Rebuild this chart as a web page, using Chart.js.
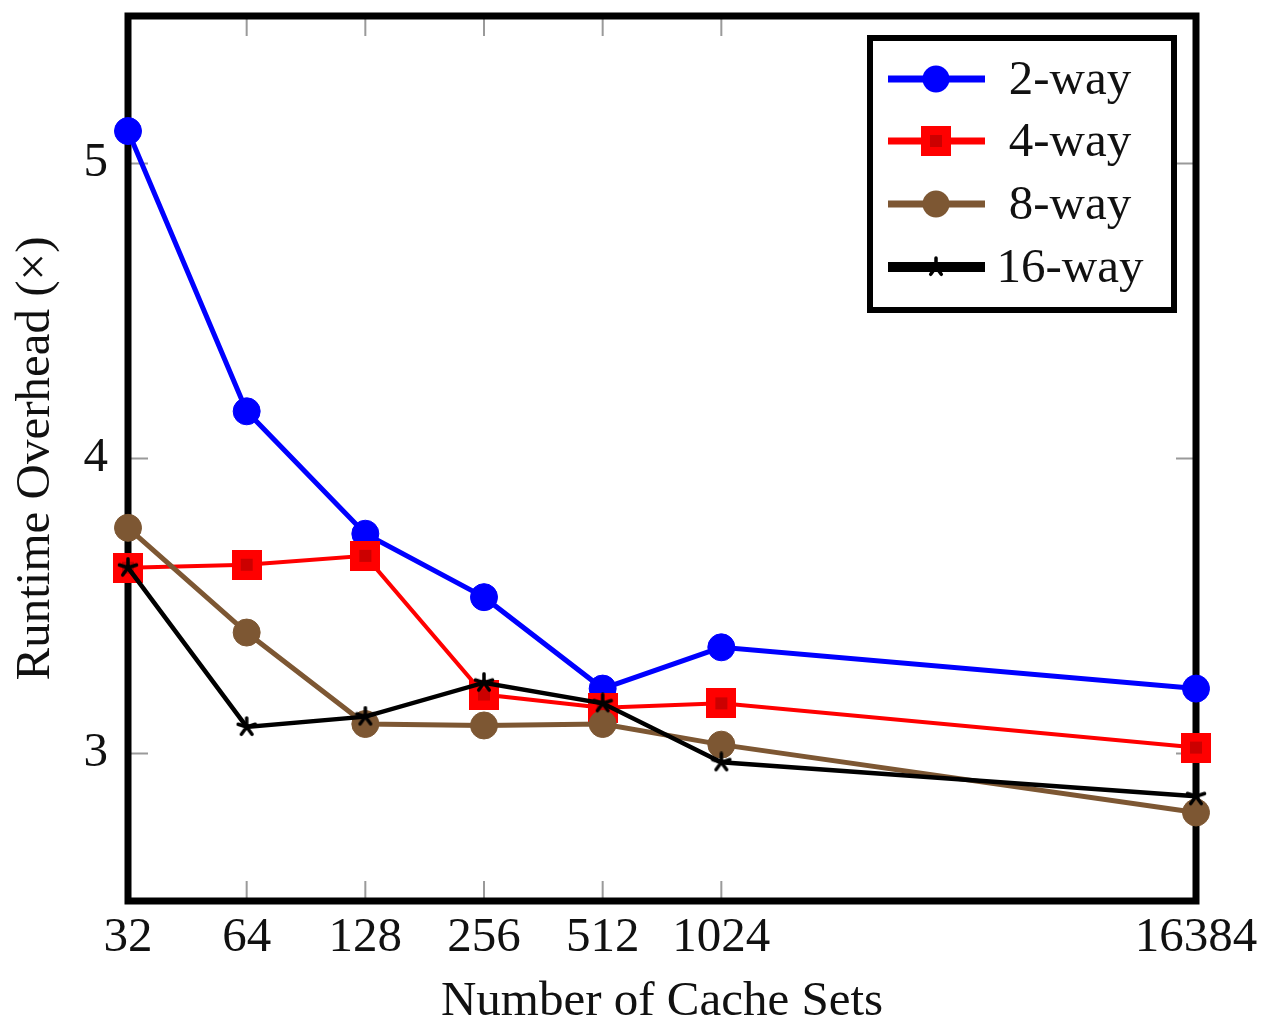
<!DOCTYPE html>
<html>
<head>
<meta charset="utf-8">
<script src="https://cdn.jsdelivr.net/npm/chart.js@4.4.1/dist/chart.umd.min.js"></script>
<style>
  html, body { margin: 0; padding: 0; background: #fff; }
  #chart { display: block; }
</style>
</head>
<body>
<canvas id="chart" width="1266" height="1032"></canvas>
<script>
// Data
// ////////////////////////////////////////////////////////////////

const cacheSets = [32, 64, 128, 256, 512, 1024, 16384];
const way2 = [5.11, 4.16, 3.745, 3.53, 3.22, 3.36, 3.22];
const way4 = [3.63, 3.64, 3.67, 3.20, 3.155, 3.17, 3.02];
const way8 = [3.765, 3.41, 3.10, 3.095, 3.10, 3.03, 2.80];
const way16 = [3.63, 3.09, 3.125, 3.24, 3.17, 2.97, 2.855];
const seriesNames = ['2-way', '4-way', '8-way', '16-way'];
const yTicks = [3, 4, 5];

const FONT = '"Liberation Serif", "Times New Roman", serif';
const BROWN = '#7d5733';

/**
 * Builds a small canvas used as a point style.
 * @param {int} size Canvas side in pixels.
 * @param {function} paint Draws on the 2d context.
 */
function markerCanvas(size, paint) {
  const c = document.createElement('canvas');
  c.width = size;
  c.height = size;
  paint(c.getContext('2d'), size);
  return c;
}

const squareMark = markerCanvas(30, (ctx, s) => {
  ctx.fillStyle = '#ff0000';
  ctx.fillRect(0, 0, s, s);
  ctx.fillStyle = '#cc0000';
  ctx.fillRect(9, 9, 12, 12);
});

const starMark = markerCanvas(22, (ctx, s) => {
  ctx.strokeStyle = '#000';
  ctx.lineWidth = 3.5;
  ctx.lineCap = 'round';
  ctx.beginPath();
  for (let i = 0; i < 5; i += 1) {
    const a = -Math.PI / 2 + (i * 2 * Math.PI) / 5;
    ctx.moveTo(s / 2, s / 2);
    ctx.lineTo(s / 2 + Math.cos(a) * 9, s / 2 + Math.sin(a) * 9);
  }
  ctx.stroke();
});

// Plugins
// ////////////////////////////////////////////////////////////////

// Frame with inward ticks on all four sides
const framePlugin = {
  id: 'frame',
  beforeDatasetsDraw(chart) {
    const { ctx, chartArea: a, scales } = chart;
    ctx.save();
    ctx.strokeStyle = '#9a9a9a';
    ctx.lineWidth = 2;
    ctx.beginPath();
    cacheSets.forEach((v) => {
      const x = scales.x.getPixelForValue(v);
      ctx.moveTo(x, a.bottom);
      ctx.lineTo(x, a.bottom - 20);
      ctx.moveTo(x, a.top);
      ctx.lineTo(x, a.top + 20);
    });
    yTicks.forEach((v) => {
      const y = scales.y.getPixelForValue(v);
      ctx.moveTo(a.left, y);
      ctx.lineTo(a.left + 20, y);
      ctx.moveTo(a.right, y);
      ctx.lineTo(a.right - 20, y);
    });
    ctx.stroke();
    ctx.strokeStyle = '#000';
    ctx.lineWidth = 7;
    ctx.strokeRect(a.left, a.top, a.right - a.left, a.bottom - a.top);
    ctx.restore();
  },
};

// Boxed legend in the upper right corner
const legendPlugin = {
  id: 'boxLegend',
  afterDatasetsDraw(chart) {
    const { ctx } = chart;
    const rowY = [79, 141, 204, 267];
    ctx.save();
    ctx.fillStyle = '#fff';
    ctx.fillRect(870, 38, 304, 272);
    ctx.strokeStyle = '#000';
    ctx.lineWidth = 6;
    ctx.strokeRect(870, 38, 304, 272);

    chart.data.datasets.forEach((ds, i) => {
      const y = rowY[i];
      ctx.strokeStyle = ds.borderColor;
      ctx.lineWidth = i === 3 ? 10 : 7;
      ctx.beginPath();
      ctx.moveTo(888, y);
      ctx.lineTo(985, y);
      ctx.stroke();

      if (ds.pointStyle instanceof HTMLCanvasElement) {
        const m = ds.pointStyle;
        ctx.drawImage(m, 936 - m.width / 2, y - m.height / 2);
      } else {
        ctx.fillStyle = ds.pointBackgroundColor;
        ctx.beginPath();
        ctx.arc(936, y, ds.pointRadius, 0, Math.PI * 2);
        ctx.fill();
      }

      ctx.fillStyle = '#111';
      ctx.font = `49px ${FONT}`;
      ctx.textAlign = 'center';
      ctx.textBaseline = 'middle';
      ctx.fillText(seriesNames[i], 1070, y + 2);
    });
    ctx.restore();
  },
};

// Chart
// ////////////////////////////////////////////////////////////////

/**
 * Builds one line dataset.
 */
function lineSet(label, values, color, width, style, radius, order) {
  return {
    label,
    data: cacheSets.map((x, i) => ({ x, y: values[i] })),
    borderColor: color,
    borderWidth: width,
    pointStyle: style,
    pointRadius: radius,
    pointBackgroundColor: color,
    pointBorderColor: color,
    pointBorderWidth: 1,
    tension: 0,
    fill: false,
    clip: false,
    order,
  };
}

/**
 * Drops the extra edge padding Chart.js reserves for tick labels.
 */
function noEdgePadding(s) {
  s.paddingTop = 0;
  s.paddingBottom = 0;
  s.paddingLeft = 0;
  s.paddingRight = 0;
}

Chart.defaults.font.family = FONT;
Chart.defaults.font.size = 49;
Chart.defaults.color = '#111';

const ctx = document.getElementById('chart').getContext('2d');
const chart = new Chart(ctx, {
  type: 'line',
  data: {
    datasets: [
      lineSet(seriesNames[0], way2, '#0000ff', 5, 'circle', 13.5, 3),
      lineSet(seriesNames[1], way4, '#ff0000', 4, squareMark, 15, 2),
      lineSet(seriesNames[2], way8, BROWN, 5, 'circle', 13.5, 1),
      lineSet(seriesNames[3], way16, '#000000', 4.5, starMark, 11, 0),
    ],
  },
  options: {
    responsive: false,
    animation: false,
    events: [],
    layout: { padding: { top: 16, right: 70, left: 0, bottom: 0 } },
    plugins: {
      legend: { display: false },
      tooltip: { enabled: false },
    },
    scales: {
      x: {
        type: 'logarithmic',
        min: 32,
        max: 16384,
        grid: { display: false, drawTicks: false },
        border: { display: false },
        afterBuildTicks: (s) => { s.ticks = cacheSets.map((value) => ({ value })); },
        afterFit: (s) => { s.height = 131; noEdgePadding(s); },
        ticks: { padding: 8, autoSkip: false, maxRotation: 0, callback: (v) => String(v) },
        title: { display: true, text: 'Number of Cache Sets', padding: { top: 0, bottom: 0 } },
      },
      y: {
        min: 2.5,
        max: 5.5,
        grid: { display: false, drawTicks: false },
        border: { display: false },
        afterBuildTicks: (s) => { s.ticks = yTicks.map((value) => ({ value })); },
        afterFit: (s) => { s.width = 128; noEdgePadding(s); },
        ticks: { padding: 20, callback: (v) => String(v) },
        title: { display: true, text: 'Runtime Overhead (×)', padding: { top: 7, bottom: 0 } },
      },
    },
  },
  plugins: [framePlugin, legendPlugin],
});
</script>
</body>
</html>
